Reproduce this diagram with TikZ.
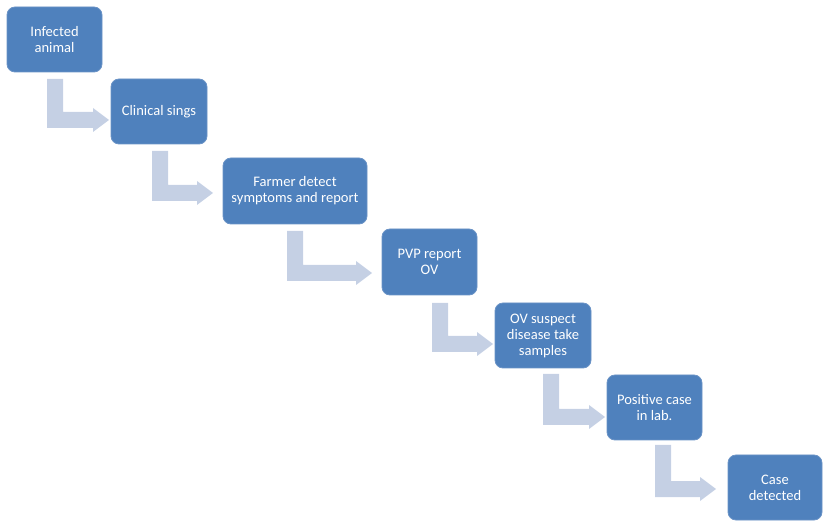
\documentclass[tikz,border=0pt]{standalone}
\usepackage{fontspec}
\setmainfont{Carlito}
\definecolor{boxblue}{HTML}{4F81BD}
\definecolor{boxedge}{HTML}{6A93C6}
\definecolor{arrowblue}{HTML}{C5D0E4}
\newcommand{\bentarr}[4]{% xl, ytop, ybottom, xtip
  \fill[arrowblue] (#1,#2) -- ({#1+16},#2) -- ({#1+16},{#3-16}) -- ({#4-16},{#3-16})
    -- ({#4-16},{#3-8-12}) -- (#4,{#3-8}) -- ({#4-16},{#3-8+12}) -- ({#4-16},#3)
    -- (#1,#3) -- cycle;}
\begin{document}
\begin{tikzpicture}[x=0.75pt,y=-0.75pt,
  box/.style={draw=boxedge, line width=0.6pt, fill=boxblue, rounded corners=6pt,
    text=white, align=center, inner sep=0pt, font=\fontsize{10.9}{12}\selectfont,
    minimum height=48.75pt}]
\useasboundingbox (0,0) rectangle (826,524);
\node[box, minimum width=71.25pt] (b1) at (54.5,39.5) {Infected\\animal};
\node[box, minimum width=72pt] (b2) at (159,111.5) {Clinical sings};
\node[box, minimum width=108pt, minimum height=49.5pt] (b3) at (295,191) {Farmer detect\\symptoms and report};
\node[box, minimum width=71.25pt, minimum height=49.5pt] (b4) at (429.5,262) {PVP report\\OV};
\node[box, minimum width=72pt] (b5) at (543,335.5) {OV suspect\\disease take\\samples};
\node[box, minimum width=71.25pt] (b6) at (654.5,407.5) {Positive case\\in lab.};
\node[box, minimum width=70.5pt] (b7) at (775,487.5) {Case\\detected};
\bentarr{47}{79}{128}{109}
\bentarr{152}{151}{201}{213}
\bentarr{287}{231}{281}{372}
\bentarr{432}{303}{352}{493}
\bentarr{543}{374}{425}{605}
\bentarr{655}{445}{497}{716}
\end{tikzpicture}
\end{document}
